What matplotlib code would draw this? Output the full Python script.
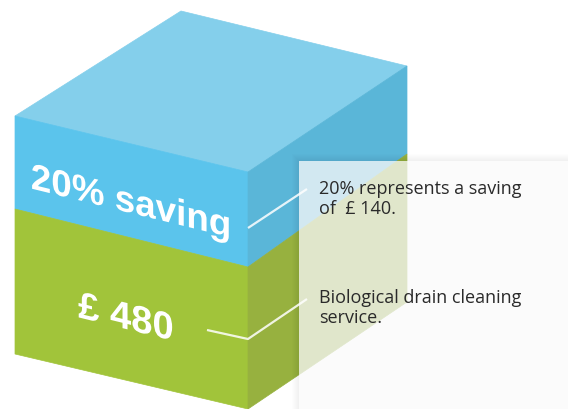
import numpy as np
import matplotlib
matplotlib.use("Agg")
import matplotlib.pyplot as plt
from matplotlib.patches import Polygon, Rectangle
from matplotlib.patheffects import AbstractPathEffect
from matplotlib.transforms import Affine2D

# ---- data ----
saving_pct = 20
saving_value = 140
service_cost = 480
big_labels = [f"{saving_pct}% saving", f"£ {service_cost}"]
note_labels = [f"{saving_pct}% represents a saving\nof  £ {saving_value}.",
               "Biological drain cleaning\nservice."]


class Shear(AbstractPathEffect):
    """Skew glyphs vertically about the text anchor (text stays a Text artist)."""
    def __init__(self, ax, x, y, slope):
        super().__init__()
        self.ax, self.x, self.y, self.s = ax, x, y, slope

    def draw_path(self, renderer, gc, tpath, affine, rgbFace=None):
        cx, cy = self.ax.transData.transform((self.x, self.y))
        sh = Affine2D(np.array([[1, 0, 0], [-self.s, 1, self.s * cx], [0, 0, 1]], float))
        renderer.draw_path(gc, tpath, affine + sh, rgbFace)


# ---- figure ----
W, H = 568, 410
fig = plt.figure(figsize=(W / 100, H / 100), dpi=100)
ax = fig.add_axes([0, 0, 1, 1])
ax.set_xlim(0, W)
ax.set_ylim(H, 0)
ax.axis("off")

# cube geometry (pixel space)
L, C, R = 15, 248, 407
top_face = [(L, 117), (181, 12), (R, 67), (C, 173)]
front_blue = [(L, 117), (C, 173), (C, 268), (L, 210)]
front_green = [(L, 210), (C, 268), (C, 410), (L, 355)]
right_blue = [(C, 173), (R, 67), (R, 155), (C, 268)]
right_green = [(C, 268), (R, 155), (R, 303), (C, 410)]

faces = [(top_face, "#84CFEB"), (front_blue, "#5BC4EC"), (front_green, "#A1C43A"),
         (right_blue, "#5AB6D8"), (right_green, "#97B13F")]
for pts, col in faces:
    ax.add_patch(Polygon(pts, closed=True, facecolor=col, edgecolor=col, lw=0.5, zorder=1))

# panel shadow
px0, py0, px1, py1 = 299, 162, 575, 420
for i in range(1, 8):
    ax.add_patch(Rectangle((px0 - i, py0 - i), (px1 - px0) + 2 * i, (py1 - py0) + 2 * i,
                           facecolor="black", edgecolor="none", alpha=0.008, zorder=2))
# translucent panel
ax.add_patch(Rectangle((px0, py0), px1 - px0, py1 - py0, facecolor="white",
                       edgecolor="none", alpha=0.74, zorder=3))

# leader lines
ax.plot([C, 307], [229, 190], color="white", lw=1.6, alpha=0.85, zorder=4,
        solid_capstyle="butt")
ax.plot([207, C, 307], [331, 340, 300], color="white", lw=1.6, alpha=0.85, zorder=4,
        solid_capstyle="butt")

# big skewed labels on the front face
slope = 0.245
for (x, y, fs), lab in zip([(131, 214, 26.5), (126, 330, 27.5)], big_labels):
    ax.text(x, y, lab, color="white", fontsize=fs, fontweight="bold",
            family="Liberation Sans", ha="center", va="baseline", zorder=5,
            path_effects=[Shear(ax, x, y, slope)])

# notes (anchored at the baseline of their last line)
ax.text(319, 214, note_labels[0], color="#2a2a2a", fontsize=13, family="Open Sans",
        ha="left", va="baseline", linespacing=1.17, zorder=6)
ax.text(319, 323, note_labels[1], color="#2a2a2a", fontsize=13, family="Open Sans",
        ha="left", va="baseline", linespacing=1.17, zorder=6)

fig.savefig("out.png", dpi=100)
